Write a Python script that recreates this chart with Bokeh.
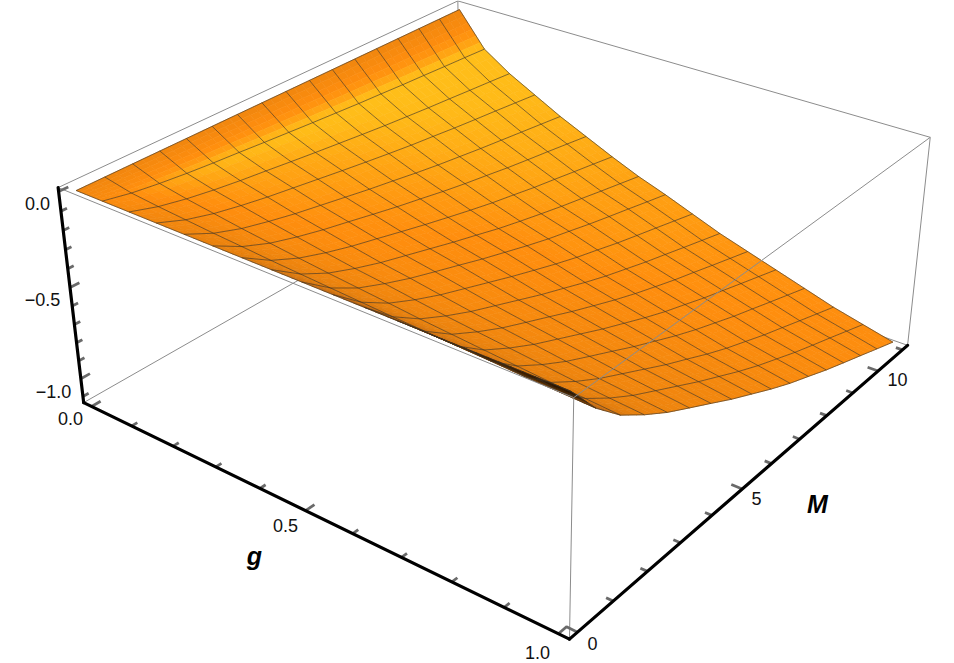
import numpy as np
from bokeh.plotting import figure
from bokeh.models import Range1d
from bokeh.core.properties import value
from bokeh.embed import file_html
from bokeh.resources import INLINE

# surface heights: one list per g mesh line (g = 0, 1/16, ... 1), running along M = 0 ... 11
z_g00 = [0]*17
z_g01 = [0,-.029,-.049,-.065,-.078,-.089,-.101,-.112,-.123,-.133,-.143,-.151,-.16,-.167,-.175,-.182,-.19]
z_g02 = [0,-.044,-.075,-.099,-.119,-.136,-.154,-.171,-.187,-.203,-.218,-.231,-.244,-.255,-.267,-.278,-.29]
z_g03 = [0,-.056,-.096,-.126,-.152,-.174,-.196,-.218,-.239,-.259,-.278,-.294,-.311,-.326,-.34,-.355,-.37]
z_g04 = [0,-.068,-.117,-.153,-.185,-.212,-.239,-.266,-.29,-.315,-.338,-.358,-.378,-.396,-.414,-.432,-.45]
z_g05 = [0,-.078,-.135,-.177,-.213,-.244,-.276,-.307,-.335,-.364,-.39,-.413,-.437,-.458,-.478,-.499,-.52]
z_g06 = [0,-.089,-.153,-.201,-.242,-.277,-.313,-.348,-.381,-.413,-.443,-.469,-.496,-.519,-.543,-.566,-.59]
z_g07 = [0,-.098,-.17,-.223,-.269,-.308,-.347,-.386,-.422,-.459,-.491,-.521,-.55,-.576,-.603,-.629,-.655]
z_g08 = [0,-.107,-.185,-.241,-.291,-.334,-.376,-.419,-.458,-.497,-.533,-.564,-.596,-.625,-.653,-.682,-.71]
z_g09 = [0,-.116,-.2,-.262,-.316,-.362,-.408,-.454,-.497,-.539,-.578,-.612,-.647,-.678,-.708,-.739,-.77]
z_g10 = [0,-.125,-.216,-.282,-.34,-.39,-.44,-.49,-.535,-.581,-.623,-.66,-.697,-.73,-.764,-.797,-.83]
z_g11 = [0,-.132,-.229,-.299,-.361,-.414,-.466,-.519,-.568,-.616,-.66,-.7,-.739,-.774,-.81,-.845,-.88]
z_g12 = [0,-.14,-.242,-.316,-.381,-.437,-.493,-.549,-.6,-.651,-.698,-.739,-.781,-.818,-.856,-.893,-.93]
z_g13 = [0,-.147,-.255,-.333,-.402,-.461,-.519,-.578,-.632,-.686,-.735,-.779,-.823,-.862,-.902,-.941,-.98]
z_g14 = [0,-.155,-.268,-.35,-.422,-.484,-.546,-.608,-.664,-.721,-.773,-.819,-.865,-.906,-.948,-.989,-1.03]
z_g15 = [0,-.161,-.278,-.364,-.439,-.503,-.567,-.631,-.69,-.749,-.803,-.851,-.899,-.942,-.984,-1.027,-1.07]
z_g16 = [0,-.167,-.289,-.377,-.455,-.522,-.588,-.655,-.716,-.777,-.833,-.882,-.932,-.977,-1.021,-1.066,-1.11]
g_ticks = [0, .1, .2, .3, .4, .5, .6, .7, .8, .9, 1]
M_ticks = [0, 1, 2, 3, 4, 5, 6, 7, 8, 9, 10, 11]
z_ticks = [0, -.1, -.2, -.3, -.4, -.5, -.6, -.7, -.8, -.9, -1, -1.1]

Z = np.array([z_g00,z_g01,z_g02,z_g03,z_g04,z_g05,z_g06,z_g07,z_g08,z_g09,z_g10,z_g11,z_g12,z_g13,z_g14,z_g15,z_g16],float)
n_g, n_M = Z.shape
G = np.linspace(0, 1, n_g)
M = np.linspace(0, 11, n_M)

gb = (-0.02, 1.02); Mb = (-0.22, 11.22); zb = (-1.135, 0.02)
corners = [((0,0,1),(58,187)),((0,0,0),(83,402)),((1,0,1),(573,397)),((1,0,0),(569,639)),
           ((1,1,1),(930,137.5)),((1,1,0),(907,344)),((0,1,1),(457,0)),((0,1,0),(460,188))]
rows = []
for (a,b,c),(u,v) in corners:
    rows.append([a,b,c,1,0,0,0,0,-u*a,-u*b,-u*c,-u])
    rows.append([0,0,0,0,a,b,c,1,-v*a,-v*b,-v*c,-v])
P = np.linalg.svd(np.array(rows,float))[2][-1].reshape(3,4)

def proj(g, m, z):
    g=np.asarray(g,float); m=np.asarray(m,float); z=np.asarray(z,float)
    a=(g-gb[0])/(gb[1]-gb[0]); b=(m-Mb[0])/(Mb[1]-Mb[0]); c=(z-zb[0])/(zb[1]-zb[0])
    w=P[2,0]*a+P[2,1]*b+P[2,2]*c+P[2,3]
    return (P[0,0]*a+P[0,1]*b+P[0,2]*c+P[0,3])/w, (P[1,0]*a+P[1,1]*b+P[1,2]*c+P[1,3])/w

p = figure(width=954, height=663, x_range=Range1d(0,954), y_range=Range1d(663,0),
           output_backend="svg", toolbar_location=None, min_border=0)
p.grid.visible=False; p.outline_line_color=None
p.xaxis.visible=False; p.yaxis.visible=False

def box(pairs, color="#8c8c8c", w=1.0):
    xs,ys=[],[]
    for A,B in pairs:
        x,y=proj([A[0],B[0]],[A[1],B[1]],[A[2],B[2]])
        xs.append(list(x)); ys.append(list(y))
    p.multi_line(xs,ys,line_color=color,line_width=w)

g0,g1=gb; m0,m1=Mb; z0,z1=zb
box([((g0,m0,z1),(g0,m1,z1)),((g0,m1,z1),(g1,m1,z1)),((g0,m0,z0),(g0,m1,z0)),((g0,m1,z0),(g1,m1,z0)),((g0,m1,z0),(g0,m1,z1))])

# shading from surface normals
sg=0.346*1.04; sm=0.346*11.44
dg=np.array(np.gradient(Z,G,axis=0))*sg; dm=np.array(np.gradient(Z,M,axis=1))*sm
dm[:,0]=dm[:,0]*(1+.8*G**3)
L=np.array([.45,-.5,.74])
nrm=np.sqrt(1+dg**2+dm**2)
T=(-dg*L[0]-dm*L[1]+L[2])/nrm
T[0,:]=np.minimum(T[0,:],.55)
stops=[0,.16,.3,.45,.70,.74,.78,.82,.87,1]
cols=np.array([[0x2a,0x15,0],[0x4a,0x28,4],[0xC0,0x68,0x10],[0xE6,0x80,0x0E],[0xFF,0x8E,0x0E],[0xFF,0x98,0x10],[0xFF,0xA8,0x14],[0xFF,0xBA,0x18],[0xFF,0xC4,0x1A],[0xFF,0xCA,0x1E]],float)
def col(t):
    return "#%02x%02x%02x"%tuple(int(round(np.interp(t,stops,cols[:,k]))) for k in range(3))

xs,ys,cs=[],[],[]
for i in range(n_g-1):
    sub_g=6 if i==0 else 3
    for j in range(n_M-2,-1,-1):
        for a in range(sub_g):
            for b in range(2,-1,-1):
                us=np.array([a,a+1,a+1,a])/sub_g; vs=np.array([b,b,b+1,b+1])/3
                def bl(F): return (1-us)*(1-vs)*F[i,j]+us*(1-vs)*F[i+1,j]+us*vs*F[i+1,j+1]+(1-us)*vs*F[i,j+1]
                gg=G[i]+us*(G[i+1]-G[i]); mm=M[j]+vs*(M[j+1]-M[j]); zz=bl(Z)
                x,y=proj(gg,mm,zz)
                xs.append(list(x)); ys.append(list(y)); cs.append(col(bl(T).mean()))
p.patches(xs,ys,fill_color=cs,line_color=cs,line_width=0.6)

lx,ly=[],[]
for i in range(n_g):
    x,y=proj(np.full(n_M,G[i]),M,Z[i,:]); lx.append(list(x)); ly.append(list(y))
for j in range(n_M):
    x,y=proj(G,np.full(n_g,M[j]),Z[:,j]); lx.append(list(x)); ly.append(list(y))
p.multi_line(lx,ly,line_color="#3a3226",line_alpha=0.62,line_width=1)

box([((g0,m0,z1),(g1,m0,z1)),((g1,m0,z1),(g1,m1,z1)),((g1,m0,z1),(g1,m0,z0)),((g1,m1,z1),(g1,m1,z0))])

def seg(A,B):
    x,y=proj([A[0],B[0]],[A[1],B[1]],[A[2],B[2]])
    return list(x),list(y)
tx,ty=[],[]
dM=m1-m0; dG=g1-g0
for t in g_ticks:
    f=.02 if t in (0,.5,1) else .0125
    x,y=seg((t,m0,z0),(t,m0+f*dM,z0)); tx.append(x); ty.append(y)
for t in M_ticks:
    f=.02 if t in (0,5,10) else .0125
    x,y=seg((g1,t,z0),(g1-f*dG,t,z0)); tx.append(x); ty.append(y)
for t in z_ticks:
    f=.02 if t in (0,-.5,-1) else .0125
    x,y=seg((g0,m0,t),(g0,m0+f*dM,t)); tx.append(x); ty.append(y)
p.multi_line(tx,ty,line_color="#6a6a6a",line_width=2.8)
ax=[seg((g0,m0,z1),(g0,m0,z0)),seg((g0,m0,z0),(g1,m0,z0)),seg((g1,m0,z0),(g1,m1,z0))]
p.multi_line([a[0] for a in ax],[a[1] for a in ax],line_color="black",line_width=3.2,line_cap="round")

labels=[("0.0",37,203),("\u22120.5",42,299),("\u22121.0",53,391),("0.0",70,418),("0.5",285,525),("1.0",537,652),("0",592,643),("5",756,498),("10",897,379)]
p.text([l[1] for l in labels],[l[2] for l in labels],text=[l[0] for l in labels],text_font=value("Liberation Sans"),text_font_size="18px",text_align="center",text_baseline="middle",text_color="#111111")
p.text([254,817],[555,503],text=["g","M"],text_font=value("Liberation Sans"),text_font_style="bold italic",text_font_size="25px",text_align="center",text_baseline="middle",text_color="black")
open("out.html","w").write(file_html(p,INLINE))
